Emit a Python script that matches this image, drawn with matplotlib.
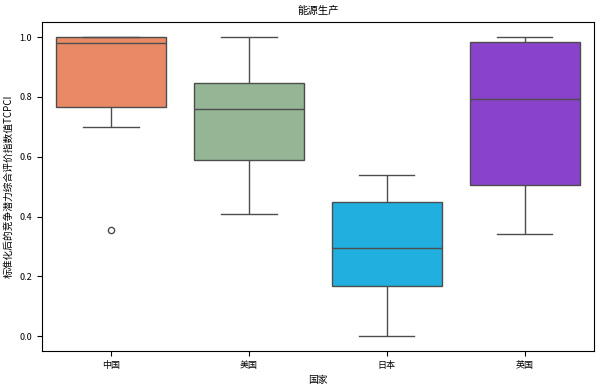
import matplotlib
matplotlib.use("Agg")
import matplotlib.pyplot as plt
import seaborn as sns
import pandas as pd

# 各国标准化后的竞争潜力综合评价指数值（能源生产）
countries = ['中国', '美国', '日本', '英国']
china = [0.355, 0.70, 0.83, 0.98, 1.0, 1.0, 1.0]
usa = [0.41, 0.55, 0.63, 0.76, 0.80, 0.89, 1.0]
japan = [0.0, 0.12, 0.214, 0.295, 0.41, 0.484, 0.54]
uk = [0.34, 0.45, 0.56, 0.793, 0.966, 1.0, 1.0]
colors = ['coral', 'darkseagreen', 'deepskyblue', 'blueviolet']

rows = []
for name, vals in zip(countries, [china, usa, japan, uk]):
    for v in vals:
        rows.append({'国家': name, 'TCPCI': v})
df = pd.DataFrame(rows)

plt.rcParams['font.family'] = ['Noto Sans CJK SC', 'DejaVu Sans']
plt.rcParams['axes.unicode_minus'] = False

fig = plt.figure(figsize=(6.01, 3.88), dpi=100)
ax = fig.add_axes([0.070, 0.095, 0.918, 0.848])
sns.boxplot(data=df, x='国家', y='TCPCI', hue='国家', order=countries,
            palette=colors, legend=False, ax=ax, fliersize=4.5, linewidth=1)
ax.set_title('能源生产', fontsize=7.5)
ax.set_xlabel('国家', fontsize=7)
ax.set_ylabel('标准化后的竞争潜力综合评价指数值TCPCI', fontsize=7)
ax.tick_params(labelsize=6.5)
ax.set_yticks([0.0, 0.2, 0.4, 0.6, 0.8, 1.0])
ax.set_ylim(-0.05, 1.05)

fig.savefig('out.png', dpi=100)
